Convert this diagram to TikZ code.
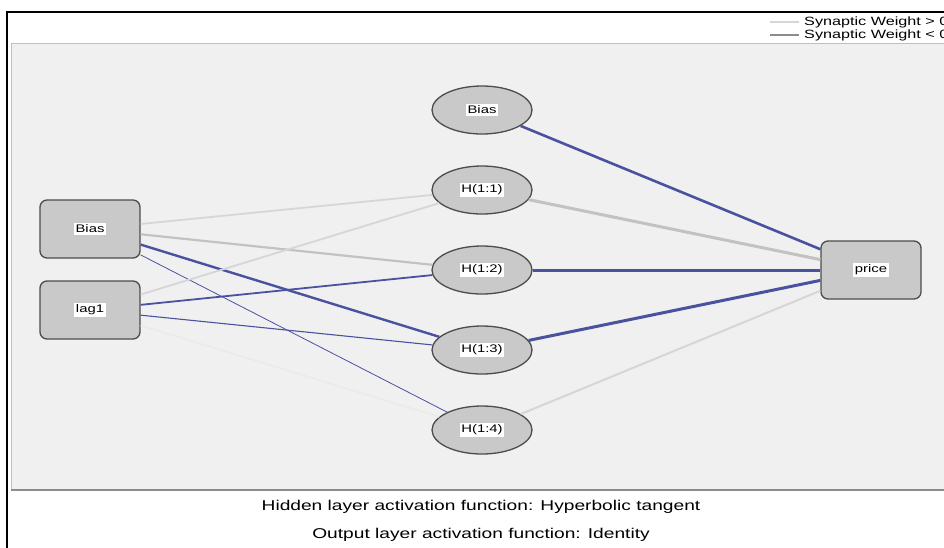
\documentclass[tikz,border=0pt]{standalone}
\usepackage{fontspec}
\setmainfont[FakeStretch=1.35]{Liberation Sans}
\usetikzlibrary{shapes.geometric}
\definecolor{panel}{HTML}{F0F0F0}
\definecolor{nodegray}{HTML}{C9C9C9}
\definecolor{poslight}{HTML}{D6D6D6}
\definecolor{posmid}{HTML}{C2C2C2}
\definecolor{negblue}{HTML}{4A52A0}
\tikzset{
    RA1/.style ={rectangle, rounded corners=7pt, minimum width=100pt, minimum height=58pt, draw=black!70, fill=nodegray, line width=1.3pt},
    EL1/.style ={ellipse, minimum width=100pt, minimum height=48pt, draw=black!70, fill=nodegray, line width=1.3pt},
    PW/.style ={draw=poslight, line width=#1},
    PM/.style ={draw=posmid, line width=#1},
    NW/.style ={draw=negblue, line width=#1},
    TX/.style ={font=\fontsize{11}{12}\selectfont}}
\newcommand{\wbox}[1]{{\setlength{\fboxsep}{1.5pt}\colorbox{white}{#1}}}

\begin{document}
\begin{tikzpicture}[x=1pt,y=-1pt]
        \useasboundingbox (0,0) rectangle (944,547);
        \clip (0,0) rectangle (944,547);
        \fill[white] (0,0) rectangle (944,547);
        % frame and panel
        \draw[line width=1.5pt] (7,560) -- (7,12) -- (960,12);
        \draw[fill=panel, draw=black!25, line width=1pt] (11,43) rectangle (960,490);
        \draw[black!45, line width=1.5pt] (11,490) -- (960,490);
        % legend
        \node[anchor=west, inner sep=0pt, font=\fontsize{12}{12}\selectfont] (leg1) at (804,22) {Synaptic Weight > 0};
        \node[anchor=west, inner sep=0pt, font=\fontsize{12}{12}\selectfont] (leg2) at (804,35) {Synaptic Weight < 0};
        \coordinate (s1) at (770,22);
        \coordinate (s2) at (770,35);
        \draw[PW=1.5pt] (s1) -- ([xshift=-5pt]leg1.west);
        \draw[draw=black!45, line width=1.5pt] (s2) -- ([xshift=-5pt]leg2.west);
        % input layer
        \node[RA1,TX] (in0) at (90,229) {\wbox{Bias}};
        \node[RA1,TX] (in1) at (90,310) {\wbox{lag1}};
        % hidden layer
        \node[EL1,TX] (h0) at (482,110) {\wbox{Bias}};
        \foreach \i/\y in {1/190,2/270,3/350,4/430}{
            \node[EL1,TX] (h\i) at (482,\y) {\wbox{H(1:\i)}};}
        % output layer
        \node[RA1,TX] (out) at (871,270) {\wbox{price}};
        % input to hidden
        \draw[PW=1.8pt] (in0) -- (h1);
        \draw[PM=2.2pt] (in0) -- (h2);
        \draw[NW=2.4pt] (in0) -- (h3);
        \draw[NW=0.8pt] (in0) -- (h4);
        \draw[PW=1.8pt] (in1) -- (h1);
        \draw[NW=1.8pt] (in1) -- (h2);
        \draw[NW=1.1pt] (in1) -- (h3);
        \draw[draw=black!8, line width=1.8pt] (in1) -- (h4);
        % hidden to output
        \draw[NW=2.6pt] (h0) -- (out);
        \draw[PM=3pt] (h1) -- (out);
        \draw[NW=3pt] (h2) -- (out);
        \draw[NW=3pt] (h3) -- (out);
        \draw[PW=2pt] (h4) -- (out);
        % captions
        \node[font=\fontsize{14.2}{14}\selectfont] (cap1) at (481,507) {Hidden layer activation function: Hyperbolic tangent};
        \node[font=\fontsize{14.2}{14}\selectfont] (cap2) at (481,535) {Output layer activation function: Identity};
    \end{tikzpicture}
\end{document}
